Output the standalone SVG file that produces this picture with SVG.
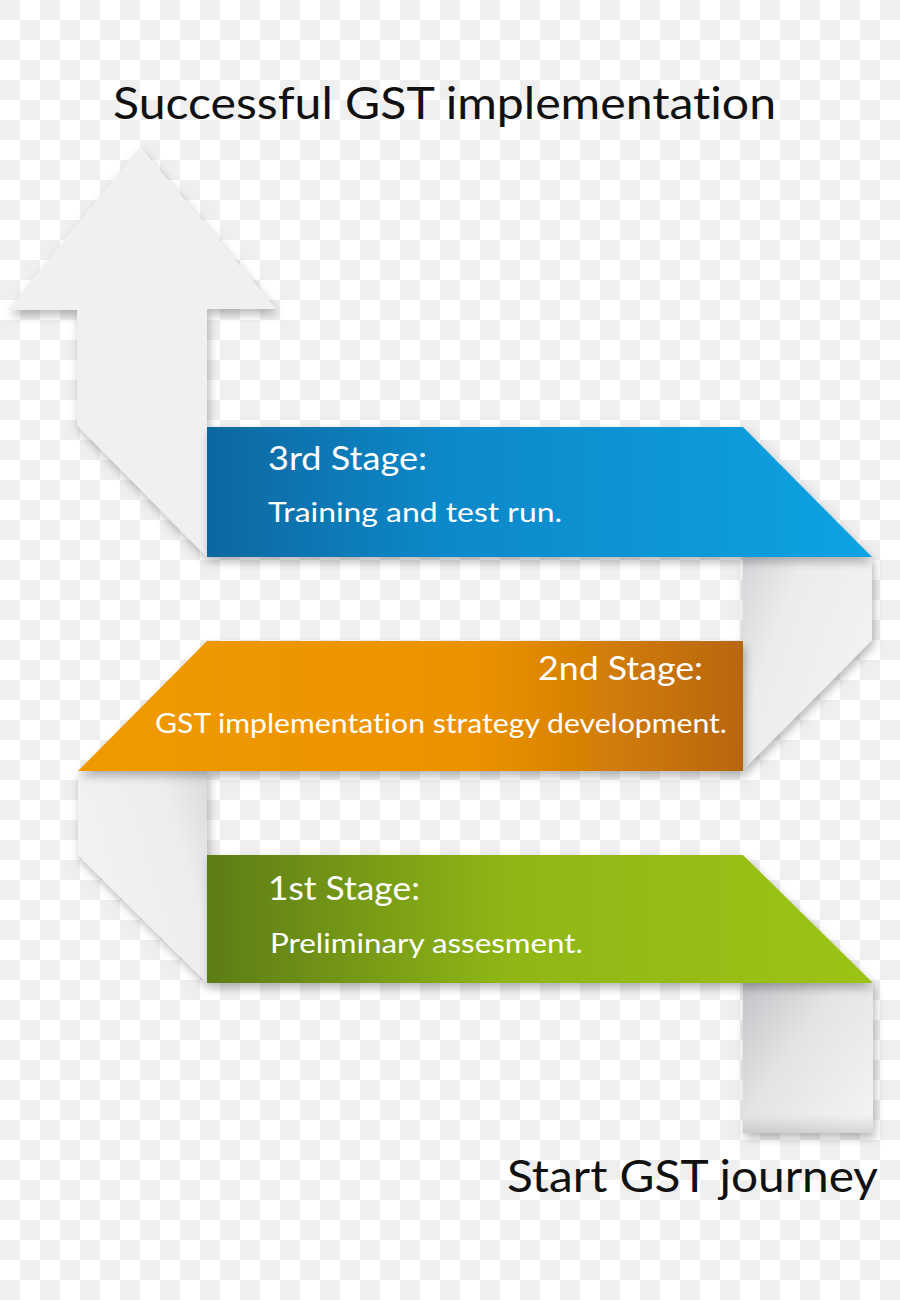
<svg xmlns="http://www.w3.org/2000/svg" width="900" height="1300" viewBox="0 0 900 1300">
  <defs>
    <pattern id="checker" width="40" height="40" patternUnits="userSpaceOnUse">
      <rect width="40" height="40" fill="#ffffff"/>
      <rect width="20" height="20" fill="#efefef"/>
      <rect x="20" y="20" width="20" height="20" fill="#efefef"/>
    </pattern>
    <linearGradient id="gBlue" x1="0" y1="0" x2="1" y2="0">
      <stop offset="0" stop-color="#0b67a0"/>
      <stop offset="0.35" stop-color="#0a88c8"/>
      <stop offset="1" stop-color="#0aa3e3"/>
    </linearGradient>
    <linearGradient id="gOrange" x1="0" y1="0" x2="1" y2="0">
      <stop offset="0" stop-color="#f09a06"/>
      <stop offset="0.6" stop-color="#ec9200"/>
      <stop offset="1" stop-color="#b7660f"/>
    </linearGradient>
    <linearGradient id="gGreen" x1="0" y1="0" x2="1" y2="0">
      <stop offset="0" stop-color="#5c7c17"/>
      <stop offset="0.45" stop-color="#8fb617"/>
      <stop offset="1" stop-color="#9cc414"/>
    </linearGradient>
    <linearGradient id="gFold1" x1="0" y1="0" x2="1" y2="0.6">
      <stop offset="0" stop-color="#d4d5d8"/>
      <stop offset="0.35" stop-color="#ececed"/>
      <stop offset="1" stop-color="#f3f3f3"/>
    </linearGradient>
    <linearGradient id="gFold2" x1="1" y1="0" x2="0" y2="0.5">
      <stop offset="0" stop-color="#d9dadc"/>
      <stop offset="0.3" stop-color="#ededee"/>
      <stop offset="1" stop-color="#f3f3f3"/>
    </linearGradient>
    <linearGradient id="gFold3" x1="0" y1="0" x2="1" y2="0.8">
      <stop offset="0" stop-color="#c2c3c6"/>
      <stop offset="0.45" stop-color="#e4e4e6"/>
      <stop offset="1" stop-color="#f2f2f2"/>
    </linearGradient>
    <linearGradient id="gFold3b" x1="0" y1="0" x2="0" y2="1">
      <stop offset="0.88" stop-color="#000" stop-opacity="0"/>
      <stop offset="1" stop-color="#000" stop-opacity="0.12"/>
    </linearGradient>
    <filter id="shadow" x="-20%" y="-20%" width="140%" height="140%">
      <feDropShadow dx="2" dy="5" stdDeviation="5" flood-color="#000" flood-opacity="0.28"/>
    </filter>
    <style>
      text { font-variant-ligatures: none; font-feature-settings: "liga" 0, "clig" 0; }
      .lbl { font-family: Lato, "Open Sans", "Liberation Sans", sans-serif; fill: #ffffff; }
      .head { font-size: 32px; }
      .sub { font-size: 27px; }
      .big { font-family: Lato, "Open Sans", "Liberation Sans", sans-serif; fill: #111111; font-size: 45px; }
      .paper { fill: #f0f0f0; }
    </style>
  </defs>

  <rect width="900" height="1300" fill="url(#checker)"/>

  <g id="title">
    <text class="big" x="113" y="119" textLength="663" lengthAdjust="spacingAndGlyphs">Successful GST implementation</text>
  </g>

  <g id="connectors">
    <g id="fold3" filter="url(#shadow)">
      <rect x="743" y="983" width="130" height="150" fill="url(#gFold3)"/>
      <rect x="743" y="983" width="130" height="150" fill="url(#gFold3b)"/>
    </g>
    <g id="fold2" filter="url(#shadow)">
      <polygon points="78,771 207,771 207,983 78,855" fill="url(#gFold2)"/>
    </g>
    <g id="fold1" filter="url(#shadow)">
      <polygon points="743,557 872,557 872,640 743,770" fill="url(#gFold1)"/>
    </g>
  </g>

  <g id="arrow" filter="url(#shadow)">
    <polygon class="paper" points="140,147 276,309 207,309 207,557 77,425 77,310 8,310"/>
  </g>

  <g id="stage1">
    <polygon points="207,855 743,855 873,983 207,983" fill="url(#gGreen)" filter="url(#shadow)"/>
    <text class="lbl head" x="268" y="900" textLength="152" lengthAdjust="spacingAndGlyphs">1st Stage:</text>
    <text class="lbl sub" x="270" y="953" textLength="313" lengthAdjust="spacingAndGlyphs">Preliminary assesment.</text>
  </g>

  <g id="stage2">
    <polygon points="207,641 743,641 743,771 78,771" fill="url(#gOrange)" filter="url(#shadow)"/>
    <text class="lbl head" x="538" y="680" textLength="165" lengthAdjust="spacingAndGlyphs">2nd Stage:</text>
    <text class="lbl sub" x="155" y="733" textLength="572" lengthAdjust="spacingAndGlyphs">GST implementation strategy development.</text>
  </g>

  <g id="stage3">
    <polygon points="207,427 743,427 872,557 207,557" fill="url(#gBlue)" filter="url(#shadow)"/>
    <text class="lbl head" x="268" y="470" textLength="159" lengthAdjust="spacingAndGlyphs">3rd Stage:</text>
    <text class="lbl sub" x="268" y="522" textLength="294" lengthAdjust="spacingAndGlyphs">Training and test run.</text>
  </g>

  <g id="start">
    <text class="big" x="507" y="1192" textLength="371" lengthAdjust="spacingAndGlyphs">Start GST journey</text>
  </g>
</svg>
